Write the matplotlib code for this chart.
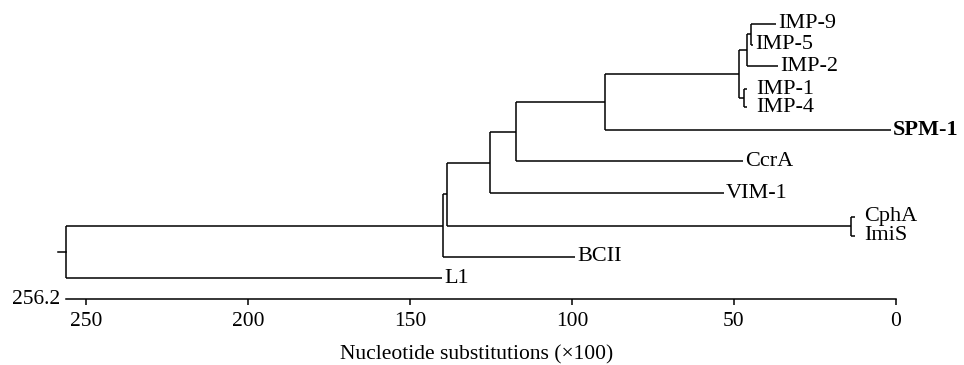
import matplotlib
matplotlib.use('Agg')
import matplotlib.pyplot as plt

plt.rcParams['font.family'] = ['Liberation Serif', 'DejaVu Serif']

# leaves: name and the height (substitutions x100) where each branch ends
leaf_names = ['IMP-9', 'IMP-5', 'IMP-2', 'IMP-1', 'IMP-4', 'SPM-1',
              'CcrA', 'VIM-1', 'CphA', 'ImiS', 'BCII', 'L1']
leaf_heights = [37.0, 44.1, 36.4, 46.0, 46.0, 1.5,
                47.2, 53.1, 12.6, 12.6, 99.1, 140.1]

# internal nodes: two children joined at a height
node_names = ['n1', 'n2', 'n3', 'n4', 'n5', 'n6', 'n7', 'n8', 'n9', 'n10', 'root']
node_left = ['IMP-9', 'n1', 'IMP-1', 'n2', 'n4', 'n5', 'n6', 'CphA', 'n7', 'n9', 'n10']
node_right = ['IMP-5', 'IMP-2', 'IMP-4', 'n3', 'SPM-1', 'CcrA', 'VIM-1', 'ImiS', 'n8', 'BCII', 'L1']
node_heights = [44.8, 46.1, 46.9, 48.4, 89.8, 117.2, 125.3, 13.9, 138.6, 139.8, 256.2]

root_height = 256.2
axis_ticks = [250, 200, 150, 100, 50, 0]

# layout: vertical row of each leaf
leaf_rows = [0, 1, 2, 3.1, 3.95, 5, 6.5, 8, 9.1, 10, 11, 12]
axis_row = 13.0
label_pad = {'IMP-1': 7, 'IMP-4': 7, 'CphA': 7, 'ImiS': 7}
bold_leaves = ['SPM-1']

fig = plt.figure(figsize=(9.64, 3.65), dpi=100)
ax = fig.add_axes([0, 0, 1, 1])
ax.set_xlim(276.54, -20.99)
ax.set_ylim(16.10, -1.118)

height = dict(zip(leaf_names, leaf_heights))
row = dict(zip(leaf_names, leaf_rows))
lw = 1.1
for name, left, right, h in zip(node_names, node_left, node_right, node_heights):
    height[name] = h
    row[name] = (row[left] + row[right]) / 2
    ax.plot([h, h], [row[left], row[right]], color='black', lw=lw, solid_capstyle='butt')
    for child in (left, right):
        ax.plot([h, height[child]], [row[child], row[child]], color='black', lw=lw,
                solid_capstyle='butt')

# short stub at the root
ax.plot([root_height, root_height + 2.5], [row['root'], row['root']], color='black', lw=lw)

for name in leaf_names:
    pad = 2 + label_pad.get(name, 0)
    ax.annotate(name, (height[name], row[name]), xytext=(pad, 0), textcoords='offset pixels',
                ha='left', va='center', fontsize=16,
                fontweight='bold' if name in bold_leaves else 'normal')

# scale axis
for side in ['top', 'left', 'right']:
    ax.spines[side].set_visible(False)
ax.spines['bottom'].set_position(('data', axis_row))
ax.spines['bottom'].set_bounds(0, root_height)
ax.spines['bottom'].set_linewidth(lw)
ax.set_yticks([])
ax.set_xticks(axis_ticks)
ax.set_xticklabels([str(t) for t in axis_ticks])
ax.tick_params(axis='x', direction='out', length=4.5, width=lw, labelsize=15.5, pad=5)
ax.patch.set_visible(False)

ax.annotate('256.2', (root_height, axis_row), xytext=(-6, 0), textcoords='offset pixels',
            ha='right', va='center', fontsize=15.5)
ax.text(129.3, 15.62, 'Nucleotide substitutions (\u00d7100)', ha='center', va='center',
        fontsize=15.5)

fig.savefig('out.png', dpi=100)
